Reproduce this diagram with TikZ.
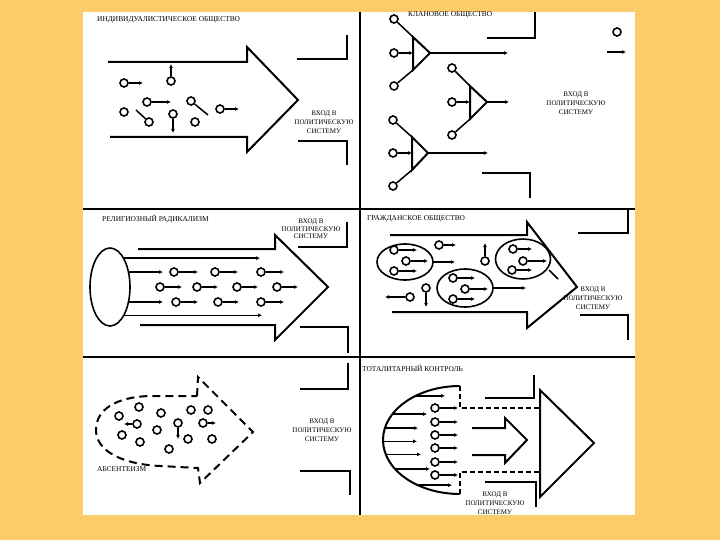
\documentclass[tikz,border=0pt]{standalone}
\usepackage{fontspec}
\setmainfont{Liberation Serif}
\usepackage{xcolor}
\usepackage{tikz}
\usetikzlibrary{shapes.geometric,arrows.meta}
\definecolor{bgorange}{RGB}{251,204,106}

\begin{document}
\begin{tikzpicture}[
  x=1pt,y=-1pt,
  prt/.style={draw,circle,line width=1.6pt,minimum size=8pt,inner sep=0pt,fill=white},
  grp/.style={draw,ellipse,line width=1.6pt,inner sep=0pt,outer sep=0pt},
  tail/.style={-{Latex[length=4pt,width=4pt]},line width=1.5pt},
  stick/.style={line width=1.5pt},
  big/.style={line width=2pt,line join=miter},
  brk/.style={line width=2.2pt},
  dsh/.style={line width=2pt,dash pattern=on 8pt off 5pt},
  dshs/.style={line width=2pt,dash pattern=on 5pt off 3pt},
  frm/.style={line width=1.4pt},
  ttl/.style={anchor=west,inner sep=0pt,font=\fontsize{7.4}{8}\selectfont},
  lbl/.style={align=center,inner sep=0pt,font=\fontsize{7}{8.8}\selectfont}
]
\useasboundingbox (0,0) rectangle (720,540);
\fill[bgorange] (0,0) rectangle (720,540);
\fill[white] (83,12) rectangle (635,515);
\draw[frm] (360,12) -- (360,515);
\draw[frm] (83,209) -- (635,209);
\draw[frm] (83,357) -- (635,357);

% individualistic society
\node[ttl] (t1) at (97,20) {ИНДИВИДУАЛИСТИЧЕСКОЕ ОБЩЕСТВО};
\draw[big] (108,62) -- (247,62) -- (247,47) -- (298,100) -- (247,152) -- (247,137) -- (110,137);
\draw[brk] (297,59) -- (347,59) -- (347,35);
\draw[brk] (298,141) -- (347,141) -- (347,165);
\node[lbl] (in1) at (324,122) {ВХОД В\\ПОЛИТИЧЕСКУЮ\\СИСТЕМУ};
\node[prt] (a1) at (124,83) {};
\node[prt] (a2) at (171,81) {};
\node[prt] (a3) at (147,102) {};
\node[prt] (a4) at (191,101) {};
\node[prt] (a5) at (220,109) {};
\node[prt] (a6) at (124,112) {};
\node[prt] (a7) at (149,122) {};
\node[prt] (a8) at (173,114) {};
\node[prt] (a9) at (195,122) {};
\coordinate (a1e) at (143,83);
\coordinate (a2e) at (171,64);
\coordinate (a3e) at (171,102);
\coordinate (a4e) at (208,115);
\coordinate (a5e) at (239,109);
\coordinate (a7e) at (136,110);
\coordinate (a8e) at (173,133);
\draw[tail] (a1) -- (a1e);
\draw[tail] (a2) -- (a2e);
\draw[tail] (a3) -- (a3e);
\draw[stick] (a4) -- (a4e);
\draw[tail] (a5) -- (a5e);
\draw[stick] (a7) -- (a7e);
\draw[tail] (a8) -- (a8e);

% clan society
\node[ttl] (t2) at (408,15) {КЛАНОВОЕ ОБЩЕСТВО};
\draw[brk] (487,38) -- (535,38) -- (535,12);
\draw[brk] (482,173) -- (530,173) -- (530,198);
\node[lbl] (in2) at (576,103) {ВХОД В\\ПОЛИТИЧЕСКУЮ\\СИСТЕМУ};
\node[prt] (b0) at (617,32) {};
\coordinate (b0s) at (607,52);
\coordinate (b0e) at (626,52);
\draw[tail] (b0s) -- (b0e);
\coordinate (g1t) at (413,37);
\coordinate (g1b) at (413,70);
\coordinate (g1a) at (430,53);
\coordinate (g1o) at (508,53);
\node[prt] (b1) at (394,19) {};
\node[prt] (b2) at (394,53) {};
\node[prt] (b3) at (394,86) {};
\draw[big] (g1t) -- (g1a) -- (g1b) -- cycle;
\draw[stick] (b1) -- (g1t);
\draw[tail] (b2) -- (g1t |- b2);
\draw[stick] (b3) -- (g1b);
\draw[tail] (g1a) -- (g1o);
\coordinate (g2t) at (470,86);
\coordinate (g2b) at (470,119);
\coordinate (g2a) at (487,102);
\coordinate (g2o) at (509,102);
\node[prt] (b4) at (452,68) {};
\node[prt] (b5) at (452,102) {};
\node[prt] (b6) at (452,135) {};
\draw[big] (g2t) -- (g2a) -- (g2b) -- cycle;
\draw[stick] (b4) -- (g2t);
\draw[tail] (b5) -- (g2t |- b5);
\draw[stick] (b6) -- (g2b);
\draw[tail] (g2a) -- (g2o);
\coordinate (g3t) at (412,137);
\coordinate (g3b) at (412,170);
\coordinate (g3a) at (428,153);
\coordinate (g3o) at (488,153);
\node[prt] (b7) at (393,120) {};
\node[prt] (b8) at (393,153) {};
\node[prt] (b9) at (393,186) {};
\draw[big] (g3t) -- (g3a) -- (g3b) -- cycle;
\draw[stick] (b7) -- (g3t);
\draw[tail] (b8) -- (g3t |- b8);
\draw[stick] (b9) -- (g3b);
\draw[tail] (g3a) -- (g3o);

% religious radicalism
\node[ttl] (t3) at (102,219) {РЕЛИГИОЗНЫЙ РАДИКАЛИЗМ};
\draw[big] (138,249) -- (275,249) -- (275,235) -- (328,287) -- (275,340) -- (275,325) -- (140,325);
\draw[brk] (298,247) -- (347,247) -- (347,222);
\draw[brk] (300,327) -- (348,327) -- (348,353);
\node[lbl,font=\fontsize{7}{7.6}\selectfont] (in3) at (311,229) {ВХОД В\\ПОЛИТИЧЕСКУЮ\\СИСТЕМУ};
\node[grp,minimum width=40pt,minimum height=78pt] (rel) at (110,287) {};
\coordinate (r1e) at (260,258);
\coordinate (r2e) at (163,272);
\coordinate (r3e) at (163,302);
\coordinate (r4e) at (262,315);
\draw[tail] (rel.65) -- (rel.65 -| r1e);
\draw[tail] (rel.39) -- (rel.39 -| r2e);
\draw[tail] (rel.-39) -- (rel.-39 -| r3e);
\draw[tail] (rel.-64) -- (rel.-64 -| r4e);
\node[prt] (ra1) at (174,272) {};
\node[prt] (ra2) at (215,272) {};
\node[prt] (ra3) at (261,272) {};
\node[prt] (rb1) at (160,287) {};
\node[prt] (rb2) at (197,287) {};
\node[prt] (rb3) at (237,287) {};
\node[prt] (rb4) at (277,287) {};
\node[prt] (rc1) at (176,302) {};
\node[prt] (rc2) at (218,302) {};
\node[prt] (rc3) at (261,302) {};
\coordinate (ra1e) at (198,272);
\coordinate (ra2e) at (238,272);
\coordinate (ra3e) at (284,272);
\coordinate (rb1e) at (182,287);
\coordinate (rb2e) at (218,287);
\coordinate (rb3e) at (258,287);
\coordinate (rb4e) at (298,287);
\coordinate (rc1e) at (198,302);
\coordinate (rc2e) at (239,302);
\coordinate (rc3e) at (284,302);
\draw[tail] (ra1) -- (ra1e);
\draw[tail] (ra2) -- (ra2e);
\draw[tail] (ra3) -- (ra3e);
\draw[tail] (rb1) -- (rb1e);
\draw[tail] (rb2) -- (rb2e);
\draw[tail] (rb3) -- (rb3e);
\draw[tail] (rb4) -- (rb4e);
\draw[tail] (rc1) -- (rc1e);
\draw[tail] (rc2) -- (rc2e);
\draw[tail] (rc3) -- (rc3e);

% civil society
\node[ttl] (t4) at (367,219) {ГРАЖДАНСКОЕ ОБЩЕСТВО};
\draw[big] (390,235) -- (527,235) -- (527,222) -- (577,287) -- (527,328) -- (527,312) -- (392,312);
\draw[brk] (578,233) -- (628,233) -- (628,210);
\draw[brk] (580,315) -- (628,315) -- (628,340);
\node[lbl] (in4) at (593,298) {ВХОД В\\ПОЛИТИЧЕСКУЮ\\СИСТЕМУ};
\node[grp,minimum width=56pt,minimum height=36pt] (e1) at (405,262) {};
\node[grp,minimum width=56pt,minimum height=38pt] (e2) at (465,288) {};
\node[grp,minimum width=55pt,minimum height=40pt] (e3) at (523,259) {};
\node[prt] (c1) at (394,250) {};
\node[prt] (c2) at (406,261) {};
\node[prt] (c3) at (394,271) {};
\node[prt] (c4) at (453,278) {};
\node[prt] (c5) at (465,289) {};
\node[prt] (c6) at (453,299) {};
\node[prt] (c7) at (513,249) {};
\node[prt] (c8) at (523,261) {};
\node[prt] (c9) at (512,270) {};
\node[prt] (f1) at (439,245) {};
\node[prt] (f2) at (485,261) {};
\node[prt] (f3) at (426,288) {};
\node[prt] (f4) at (410,297) {};
\coordinate (c1e) at (417,250);
\coordinate (c2e) at (428,261);
\coordinate (c3e) at (417,271);
\coordinate (c4e) at (475,278);
\coordinate (c5e) at (488,289);
\coordinate (c6e) at (475,299);
\coordinate (c7e) at (532,249);
\coordinate (c8e) at (547,261);
\coordinate (c9e) at (532,270);
\coordinate (f1e) at (456,245);
\coordinate (f2e) at (485,243);
\coordinate (f3e) at (426,307);
\coordinate (f4e) at (385,297);
\coordinate (e1o) at (455,262);
\coordinate (e2o) at (526,288);
\coordinate (e3s) at (549,270);
\coordinate (e3t) at (558,279);
\draw[tail] (c1) -- (c1e);
\draw[tail] (c2) -- (c2e);
\draw[tail] (c3) -- (c3e);
\draw[tail] (c4) -- (c4e);
\draw[tail] (c5) -- (c5e);
\draw[tail] (c6) -- (c6e);
\draw[tail] (c7) -- (c7e);
\draw[tail] (c8) -- (c8e);
\draw[tail] (c9) -- (c9e);
\draw[tail] (f1) -- (f1e);
\draw[tail] (f2) -- (f2e);
\draw[tail] (f3) -- (f3e);
\draw[tail] (f4) -- (f4e);
\draw[tail] (e1.east) -- (e1o);
\draw[tail] (e2.east) -- (e2o);
\draw[stick] (e3s) -- (e3t);

% absenteeism
\node[ttl] (t5) at (97,469) {АБСЕНТЕИЗМ};
\draw[brk] (300,389) -- (348,389) -- (348,363);
\draw[brk] (300,471) -- (350,471) -- (350,495);
\node[lbl] (in5) at (322,430) {ВХОД В\\ПОЛИТИЧЕСКУЮ\\СИСТЕМУ};
\draw[dsh] (197,396) -- (198,377) -- (253,432) -- (200,483) -- (198,468) -- (160,466)
  .. controls (120,464) and (96,450) .. (96,430)
  .. controls (96,410) and (115,397) .. (150,396) -- cycle;
\node[prt] (d1) at (119,416) {};
\node[prt] (d2) at (139,407) {};
\node[prt] (d3) at (161,413) {};
\node[prt] (d4) at (191,410) {};
\node[prt] (d5) at (208,410) {};
\node[prt] (d6) at (137,424) {};
\node[prt] (d7) at (157,430) {};
\node[prt] (d8) at (178,423) {};
\node[prt] (d9) at (203,423) {};
\node[prt] (d10) at (122,435) {};
\node[prt] (d11) at (140,442) {};
\node[prt] (d12) at (188,439) {};
\node[prt] (d13) at (212,439) {};
\node[prt] (d14) at (169,449) {};
\coordinate (d6e) at (124,424);
\coordinate (d8e) at (178,439);
\coordinate (d9e) at (216,423);
\draw[tail] (d6) -- (d6e);
\draw[tail] (d8) -- (d8e);
\draw[tail] (d9) -- (d9e);

% totalitarian control
\node[ttl] (t6) at (362,368) {ТОТАЛИТАРНЫЙ КОНТРОЛЬ};
\node[ellipse,inner sep=0pt,outer sep=0pt,minimum width=154pt,minimum height=108pt] (tot) at (460,440) {};
\draw[big] (tot.north) arc[start angle=90,end angle=270,x radius=77pt,y radius=54pt];
\draw[dshs] (tot.north) -- (460,408) -- (540,408);
\draw[dshs] (tot.south) -- (460,472) -- (540,472);
\draw[big] (540,390) -- (594,443) -- (540,497) -- cycle;
\draw[brk] (485,398) -- (534,398) -- (534,375);
\draw[brk] (485,482) -- (536,482) -- (536,507);
\draw[big] (472,428) -- (505,428) -- (505,418) -- (527,440) -- (505,463) -- (505,455) -- (472,455);
\node[lbl] (in6) at (495,503) {ВХОД В\\ПОЛИТИЧЕСКУЮ\\СИСТЕМУ};
\coordinate (h1) at (445,0);
\coordinate (h2) at (427,0);
\coordinate (h3) at (418,0);
\coordinate (h4) at (417,0);
\coordinate (h5) at (421,0);
\coordinate (h6) at (430,0);
\coordinate (h7) at (452,0);
\draw[tail] (tot.135) -- (tot.135 -| h1);
\draw[tail] (tot.159) -- (tot.159 -| h2);
\draw[tail] (tot.171) -- (tot.171 -| h3);
\draw[tail] (tot.181) -- (tot.181 -| h4);
\draw[tail] (tot.191) -- (tot.191 -| h5);
\draw[tail] (tot.204) -- (tot.204 -| h6);
\draw[tail] (tot.227) -- (tot.227 -| h7);
\node[prt] (k1) at (435,408) {};
\node[prt] (k2) at (435,422) {};
\node[prt] (k3) at (435,435) {};
\node[prt] (k4) at (435,448) {};
\node[prt] (k5) at (435,462) {};
\node[prt] (k6) at (435,475) {};
\coordinate (kx) at (458,0);
\draw[tail] (k1) -- (k1 -| kx);
\draw[tail] (k2) -- (k2 -| kx);
\draw[tail] (k3) -- (k3 -| kx);
\draw[tail] (k4) -- (k4 -| kx);
\draw[tail] (k5) -- (k5 -| kx);
\draw[tail] (k6) -- (k6 -| kx);
\end{tikzpicture}
\end{document}
